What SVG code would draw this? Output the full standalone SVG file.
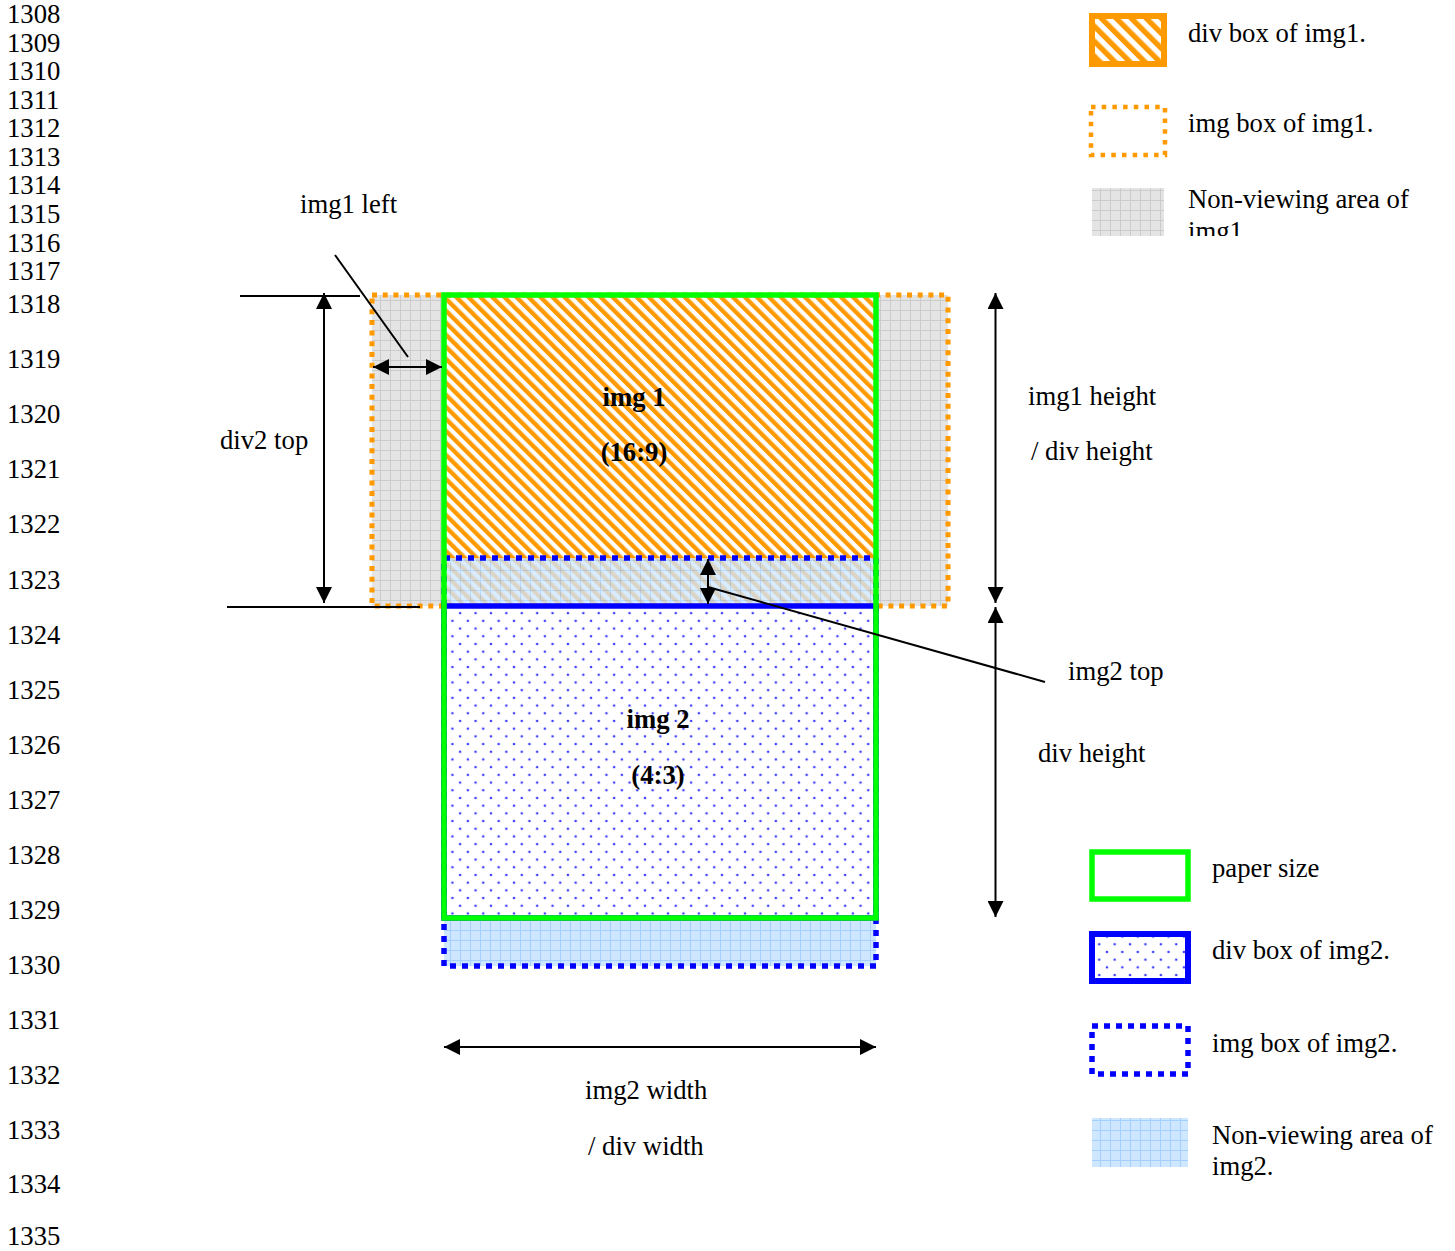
<svg xmlns="http://www.w3.org/2000/svg" width="1455" height="1251" viewBox="0 0 1455 1251">
<style>
text{font-family:"Liberation Serif","Times New Roman",serif;font-size:26.7px;fill:#000}
.b{font-weight:bold}
.mid{text-anchor:middle}
.ln{stroke:#000;stroke-width:2;fill:none}
.arr{stroke:#000;stroke-width:2;fill:none;marker-start:url(#ah);marker-end:url(#ah)}
.green{fill:none;stroke:#00ff00;stroke-width:5.5}
</style>
<defs>
<marker id="ah" viewBox="0 0 16 16" refX="16" refY="8" markerWidth="16" markerHeight="16" markerUnits="userSpaceOnUse" orient="auto-start-reverse">
<path d="M0,0 L16,8 L0,16 z" fill="#000"/>
</marker>
<pattern id="hatch" patternUnits="userSpaceOnUse" width="8.5" height="8.5" patternTransform="rotate(-45)">
<rect width="8.5" height="8.5" fill="#fff"/>
<rect width="4.3" height="8.5" fill="#ff9900"/>
</pattern>
<pattern id="hatchL" patternUnits="userSpaceOnUse" width="10.6" height="10.6" patternTransform="rotate(-45)">
<rect width="10.6" height="10.6" fill="#fff"/>
<rect width="5.3" height="10.6" fill="#ff9900"/>
</pattern>
<pattern id="greyGrid" patternUnits="userSpaceOnUse" width="10" height="10">
<rect width="10" height="10" fill="#e4e4e4"/>
<path d="M0,0.5 H10 M0.5,0 V10" stroke="#cbcbcb" stroke-width="1"/>
</pattern>
<pattern id="blueGrid" patternUnits="userSpaceOnUse" width="10" height="10">
<rect width="10" height="10" fill="#cfe6ff"/>
<path d="M0,0.5 H10 M0.5,0 V10" stroke="#a4cfff" stroke-width="1"/>
</pattern>
<pattern id="dots" patternUnits="userSpaceOnUse" width="15.4" height="15.4" x="2" y="1">
<rect width="15.4" height="15.4" fill="#fff"/>
<circle cx="3.85" cy="3.85" r="1.3" fill="#3c3cff"/>
<circle cx="11.55" cy="11.55" r="1.3" fill="#3c3cff"/>
</pattern>
<clipPath id="clipNV1"><rect x="1180" y="180" width="275" height="56"/></clipPath>
</defs>

<g id="line-numbers">
<text x="7" y="23">1308</text>
<text x="7" y="51.5">1309</text>
<text x="7" y="80">1310</text>
<text x="7" y="108.5">1311</text>
<text x="7" y="137">1312</text>
<text x="7" y="166">1313</text>
<text x="7" y="194">1314</text>
<text x="7" y="223">1315</text>
<text x="7" y="251.5">1316</text>
<text x="7" y="280">1317</text>
<text x="7" y="313">1318</text>
<text x="7" y="368">1319</text>
<text x="7" y="423">1320</text>
<text x="7" y="478">1321</text>
<text x="7" y="533">1322</text>
<text x="7" y="589">1323</text>
<text x="7" y="644">1324</text>
<text x="7" y="699">1325</text>
<text x="7" y="754">1326</text>
<text x="7" y="809">1327</text>
<text x="7" y="864">1328</text>
<text x="7" y="919">1329</text>
<text x="7" y="974">1330</text>
<text x="7" y="1029">1331</text>
<text x="7" y="1084">1332</text>
<text x="7" y="1139">1333</text>
<text x="7" y="1193">1334</text>
<text x="7" y="1245">1335</text>
</g>

<g id="img1-nonview">
<rect x="372" y="295" width="72" height="311" fill="url(#greyGrid)"/>
<rect x="876" y="295" width="72" height="311" fill="url(#greyGrid)"/>
</g>
<g id="img1-div">
<rect x="444" y="295" width="432" height="311" fill="url(#hatch)"/>
</g>
<g id="img1-imgbox">
<rect x="372" y="295" width="576" height="311" fill="none" stroke="#ff9900" stroke-width="5" stroke-dasharray="5 5.7"/>
</g>
<g id="img2-nonview">
<rect x="444" y="558" width="432" height="48" fill="url(#blueGrid)" opacity="0.78"/>
<rect x="444" y="918" width="432" height="48" fill="url(#blueGrid)"/>
</g>
<g id="img2-div">
<rect x="444" y="606" width="432" height="312" fill="url(#dots)" stroke="#0000ff" stroke-width="5.5"/>
</g>
<g id="img2-imgbox">
<rect x="444" y="558" width="432" height="408" fill="none" stroke="#0000ff" stroke-width="5.5" stroke-dasharray="6 6"/>
</g>
<g id="paper">
<rect class="green" x="444" y="295" width="432" height="623"/>
</g>

<g id="labels">
<text class="b mid" x="634" y="406">img 1</text>
<text class="b mid" x="634" y="461">(16:9)</text>
<text class="b mid" x="658" y="728">img 2</text>
<text class="b mid" x="658" y="784">(4:3)</text>
<text x="300" y="213">img1 left</text>
<text x="220" y="449">div2 top</text>
<text x="1028" y="405">img1 height</text>
<text x="1031" y="460">/ div height</text>
<text x="1068" y="680">img2 top</text>
<text x="1038" y="762">div height</text>
<text x="585" y="1099">img2 width</text>
<text x="588" y="1155">/ div width</text>
</g>

<g id="connectors">
<line class="ln" x1="240" y1="296" x2="360" y2="296"/>
<line class="ln" x1="227" y1="607" x2="420" y2="607"/>
<line class="arr" x1="324" y1="293" x2="324" y2="603"/>
<line class="ln" x1="335" y1="255" x2="408" y2="357"/>
<line class="arr" x1="373" y1="367" x2="442" y2="367"/>
<line class="arr" x1="995.5" y1="293" x2="995.5" y2="603"/>
<line class="arr" x1="995.5" y1="607" x2="995.5" y2="917"/>
<line class="arr" x1="708" y1="559" x2="708" y2="604"/>
<line class="ln" x1="708" y1="587" x2="1045" y2="682"/>
<line class="arr" x1="444" y1="1047" x2="876" y2="1047"/>
</g>

<g id="legend-div-img1">
<rect x="1092" y="16" width="72" height="48" fill="url(#hatchL)" stroke="#ff9900" stroke-width="6"/>
<text x="1188" y="42">div box of img1.</text>
</g>
<g id="legend-img-img1">
<rect x="1091" y="107" width="74" height="48" fill="none" stroke="#ff9900" stroke-width="4.5" stroke-dasharray="4.5 6.2"/>
<text x="1188" y="132">img box of img1.</text>
</g>
<g id="legend-nonview-img1">
<rect x="1092" y="188" width="72" height="48" fill="url(#greyGrid)"/>
<text x="1188" y="208">Non-viewing area of</text>
<text x="1188" y="240" clip-path="url(#clipNV1)">img1</text>
</g>
<g id="legend-paper">
<rect x="1092" y="852" width="96" height="47" class="green"/>
<text x="1212" y="877">paper size</text>
</g>
<g id="legend-div-img2">
<rect x="1092" y="934" width="96" height="47" fill="url(#dots)" stroke="#0000ff" stroke-width="6"/>
<text x="1212" y="959">div box of img2.</text>
</g>
<g id="legend-img-img2">
<rect x="1092" y="1026" width="96" height="48" fill="none" stroke="#0000ff" stroke-width="5.5" stroke-dasharray="6 6"/>
<text x="1212" y="1052">img box of img2.</text>
</g>
<g id="legend-nonview-img2">
<rect x="1092" y="1118" width="96" height="49" fill="url(#blueGrid)"/>
<text x="1212" y="1144">Non-viewing area of</text>
<text x="1212" y="1175">img2.</text>
</g>
</svg>
